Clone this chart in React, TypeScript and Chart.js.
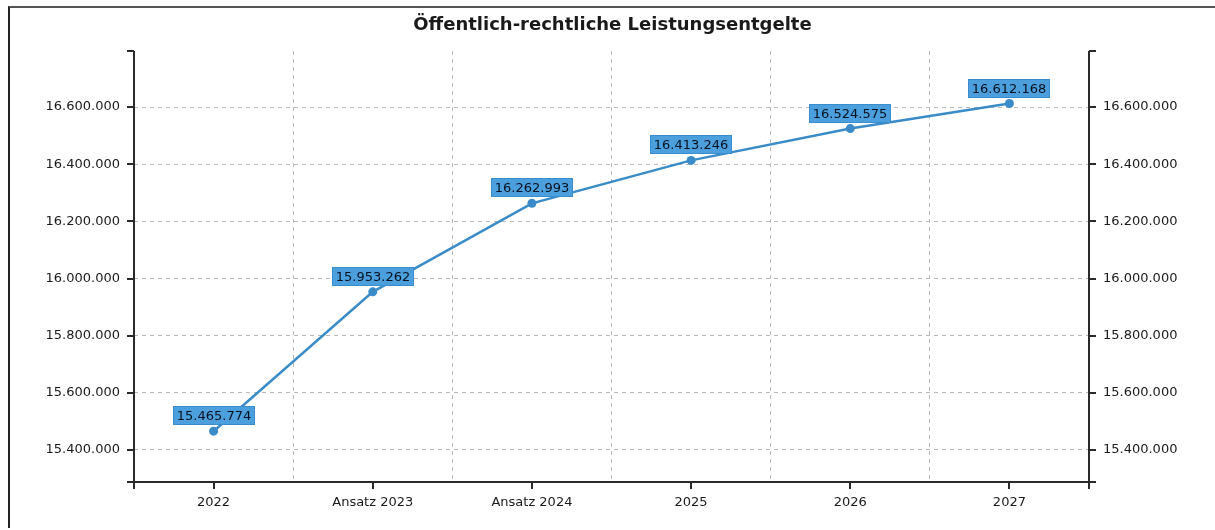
import React, { useEffect, useRef } from 'react';
import { Chart, registerables } from 'chart.js';

Chart.register(...registerables);

const TITLE = 'Öffentlich-rechtliche Leistungsentgelte';
const categories = ['2022', 'Ansatz 2023', 'Ansatz 2024', '2025', '2026', '2027'];
const values = [15465774, 15953262, 16262993, 16413246, 16524575, 16612168];
const yTickValues = [15400000, 15600000, 15800000, 16000000, 16200000, 16400000, 16600000];
const yMin = 15288000;
const yMax = 16796000;

const FONT = '"DejaVu Sans", Verdana, sans-serif';

function fmt(n: number): string {
  return String(Math.round(n)).replace(/\B(?=(\d{3})+(?!\d))/g, '.');
}

const frameAndLabels = {
  id: 'frameAndLabels',
  afterDatasetsDraw(chart: any) {
    const ctx = chart.ctx as CanvasRenderingContext2D;
    const { left, right, top, bottom } = chart.chartArea;
    const T = 7;
    ctx.save();
    ctx.strokeStyle = '#2a2a2a';
    ctx.lineWidth = 2;
    ctx.beginPath();
    // vertical axes
    ctx.moveTo(left, top);
    ctx.lineTo(left, bottom + T);
    ctx.moveTo(right, top);
    ctx.lineTo(right, bottom + T);
    // bottom axis
    ctx.moveTo(left - T, bottom);
    ctx.lineTo(right + T, bottom);
    // top end ticks
    ctx.moveTo(left - T, top);
    ctx.lineTo(left, top);
    ctx.moveTo(right, top);
    ctx.lineTo(right + T, top);
    // y ticks
    const ys = chart.scales.y;
    yTickValues.forEach((v) => {
      const py = Math.round(ys.getPixelForValue(v));
      ctx.moveTo(left - T, py);
      ctx.lineTo(left, py);
      ctx.moveTo(right, py);
      ctx.lineTo(right + T, py);
    });
    // x ticks at category centers
    const xs = chart.scales.x;
    categories.forEach((_, i) => {
      const px = Math.round(xs.getPixelForValue(i));
      ctx.moveTo(px, bottom);
      ctx.lineTo(px, bottom + T);
    });
    ctx.stroke();

    // data labels
    const meta = chart.getDatasetMeta(0);
    ctx.font = '13px ' + FONT;
    ctx.textAlign = 'center';
    ctx.textBaseline = 'middle';
    meta.data.forEach((pt: any, i: number) => {
      const text = fmt(values[i]);
      const w = Math.round(ctx.measureText(text).width + 8);
      const h = 19;
      const x = Math.round(pt.x - w / 2);
      const y = Math.round(pt.y - 6 - h);
      ctx.fillStyle = '#4a9fdc';
      ctx.fillRect(x, y, w, h);
      ctx.strokeStyle = '#3a8dcc';
      ctx.lineWidth = 1;
      ctx.strokeRect(x + 0.5, y + 0.5, w - 1, h - 1);
      ctx.fillStyle = '#08111f';
      ctx.fillText(text, x + w / 2, y + h / 2 + 1);
    });
    ctx.restore();
  },
};

export default function App() {
  const ref = useRef<HTMLCanvasElement | null>(null);

  useEffect(() => {
    if (!ref.current) return;
    const tickFont = { family: FONT, size: 13 };
    const setTicks = (scale: any) => {
      scale.ticks = yTickValues.map((v) => ({ value: v }));
    };
    const chart = new Chart(ref.current, {
      type: 'line',
      data: {
        labels: categories,
        datasets: [
          {
            data: values,
            borderColor: '#3a8cc8',
            backgroundColor: '#3a8cc8',
            borderWidth: 2.5,
            pointRadius: 4.5,
            pointHoverRadius: 4.5,
            pointBorderWidth: 0,
            tension: 0,
            yAxisID: 'y',
          },
        ],
      },
      options: {
        responsive: false,
        animation: false,
        layout: { padding: 0 },
        events: [],
        plugins: {
          legend: { display: false },
          tooltip: { enabled: false },
          title: {
            display: true,
            text: TITLE,
            color: '#1a1a1a',
            font: { family: FONT, size: 18, weight: 'bold' },
            padding: { top: 7, bottom: 14.4 },
          },
        },
        scales: {
          x: {
            type: 'category',
            offset: true,
            grid: { offset: true, color: '#b8b8b8', lineWidth: 1, drawTicks: false },
            border: { display: false, dash: [4, 4] },
            ticks: { color: '#1a1a1a', font: tickFont, padding: 13, maxRotation: 0, autoSkip: false },
            afterFit: (s: any) => {
              s.height = 40;
            },
          },
          y: {
            type: 'linear',
            position: 'left',
            min: yMin,
            max: yMax,
            afterBuildTicks: setTicks,
            grid: { color: '#b8b8b8', lineWidth: 1, drawTicks: false },
            border: { display: false, dash: [4, 4] },
            ticks: { color: '#1a1a1a', font: tickFont, padding: 14, callback: (v: any) => fmt(Number(v)) },
            afterFit: (s: any) => {
              s.width = 124;
            },
          },
          y1: {
            type: 'linear',
            position: 'right',
            min: yMin,
            max: yMax,
            afterBuildTicks: setTicks,
            grid: { display: false, drawTicks: false },
            border: { display: false },
            ticks: { color: '#1a1a1a', font: tickFont, padding: 14, callback: (v: any) => fmt(Number(v)) },
            afterFit: (s: any) => {
              s.width = 126;
            },
          },
        },
      } as any,
      plugins: [frameAndLabels],
    });
    return () => chart.destroy();
  }, []);

  return (
    <div
      style={{
        position: 'absolute',
        top: 6,
        left: 8,
        width: 1207,
        height: 522,
        boxSizing: 'border-box',
        borderTop: '2px solid #555',
        borderLeft: '2px solid #222',
        background: '#fff',
      }}
    >
      <canvas ref={ref} width={1205} height={514} style={{ display: 'block' }} />
    </div>
  );
}
